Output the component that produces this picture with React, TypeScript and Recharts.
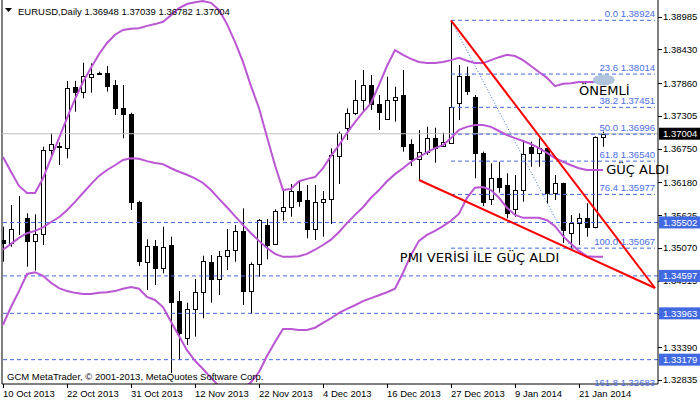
import { ComposedChart, Bar, Line, XAxis, YAxis, ReferenceLine, ReferenceDot } from 'recharts'

// EURUSD daily bars, 10 Oct 2013 .. 24 Jan 2014
const opens = [
  1.35205, 1.35159, 1.35569, 1.35572, 1.35193, 1.35301, 1.36728, 1.36796, 1.36767, 1.3779,
  1.37716, 1.37969, 1.38037, 1.38037, 1.37829, 1.37434, 1.37338, 1.35853, 1.34827, 1.35103,
  1.34726, 1.3512, 1.34172, 1.33541, 1.34032, 1.34319, 1.34827, 1.34539, 1.34934, 1.35035,
  1.35357, 1.34346, 1.34793, 1.35459, 1.35132, 1.35696, 1.35758, 1.36034, 1.35882, 1.35386,
  1.35843, 1.35894, 1.36632, 1.37106, 1.3735, 1.37575, 1.37829, 1.37507, 1.37248, 1.37575,
  1.3766, 1.3683, 1.36571, 1.367, 1.36927, 1.36801, 1.36842, 1.37519, 1.37981, 1.37621,
  1.36683, 1.35894, 1.36249, 1.36136, 1.35725, 1.36051, 1.36784, 1.36683, 1.36757, 1.36006,
  1.36165, 1.35328, 1.35488, 1.35572, 1.3543, 1.36948,
]
const highs = [
  1.3543, 1.35797, 1.3595, 1.35657, 1.3564, 1.36784, 1.37011, 1.36859, 1.37897, 1.37897,
  1.38206, 1.38196, 1.38054, 1.38151, 1.37914, 1.37829, 1.3736, 1.3587, 1.35217, 1.35205,
  1.3543, 1.35261, 1.34341, 1.34143, 1.34545, 1.34939, 1.34951, 1.35019, 1.35391, 1.35459,
  1.35741, 1.34827, 1.3556, 1.3556, 1.35725, 1.36063, 1.36153, 1.36209, 1.36136, 1.36136,
  1.36034, 1.36757, 1.37038, 1.37434, 1.37914, 1.38083, 1.37998, 1.3766, 1.37969, 1.378,
  1.38083, 1.3691, 1.37067, 1.37123, 1.37106, 1.37021, 1.38924, 1.38168, 1.38139, 1.3766,
  1.367, 1.36503, 1.3653, 1.36334, 1.36305, 1.36898, 1.36869, 1.36927, 1.36784, 1.36305,
  1.36175, 1.35628, 1.35657, 1.35826, 1.3696, 1.37039,
]
const lows = [
  1.34837, 1.35091, 1.35289, 1.34753, 1.34685, 1.3512, 1.36588, 1.36475, 1.36588, 1.37377,
  1.37604, 1.37699, 1.37998, 1.37716, 1.37321, 1.36927, 1.35713, 1.34765, 1.34358, 1.34443,
  1.34641, 1.32953, 1.33173, 1.33427, 1.33568, 1.33879, 1.34143, 1.34274, 1.34697, 1.34837,
  1.34104, 1.33952, 1.34583, 1.34878, 1.3512, 1.35532, 1.35599, 1.35769, 1.35234, 1.35205,
  1.35261, 1.35476, 1.36153, 1.36898, 1.37321, 1.37377, 1.37406, 1.37067, 1.37236, 1.37208,
  1.367, 1.36458, 1.36221, 1.36644, 1.36513, 1.36801, 1.36842, 1.37236, 1.3766, 1.36249,
  1.3578, 1.35797, 1.36006, 1.35572, 1.35599, 1.35853, 1.36446, 1.36446, 1.35826, 1.35882,
  1.35154, 1.35067, 1.3512, 1.35261, 1.35403, 1.36782,
]
const closes = [
  1.35159, 1.35386, 1.35577, 1.35193, 1.35306, 1.36728, 1.36825, 1.36779, 1.37773, 1.37716,
  1.37981, 1.38015, 1.38015, 1.37817, 1.37434, 1.37333, 1.35853, 1.34854, 1.35108, 1.34726,
  1.35091, 1.3416, 1.33635, 1.34032, 1.34319, 1.34849, 1.34539, 1.34934, 1.35035, 1.35357,
  1.34346, 1.34793, 1.35543, 1.3512, 1.35696, 1.35758, 1.36034, 1.3587, 1.35386, 1.35843,
  1.35894, 1.36644, 1.37011, 1.3735, 1.37575, 1.37829, 1.37502, 1.37377, 1.37575, 1.37631,
  1.36796, 1.36571, 1.3669, 1.36927, 1.36757, 1.36869, 1.37451, 1.37981, 1.37732, 1.36683,
  1.35853, 1.36249, 1.36107, 1.35657, 1.36051, 1.36661, 1.36683, 1.36767, 1.36006, 1.36165,
  1.35374, 1.35498, 1.35572, 1.3543, 1.36945, 1.37004,
]

// Bollinger bands
const bbUpper = [
  1.3661, 1.3636, 1.3612, 1.36, 1.36, 1.3625, 1.3659, 1.3693, 1.3727, 1.3759,
  1.3788, 1.3812, 1.3835, 1.3854, 1.3868, 1.3876, 1.3878, 1.3879, 1.3883, 1.3886,
  1.389, 1.3901, 1.3913, 1.392, 1.3923, 1.3925, 1.3922, 1.391, 1.3886, 1.3856,
  1.3822, 1.3781, 1.3744, 1.3695, 1.3647, 1.3605, 1.3607, 1.362, 1.3624, 1.3627,
  1.3642, 1.3663, 1.3681, 1.3702, 1.372, 1.3737, 1.3752, 1.3783, 1.3815, 1.3842,
  1.3834, 1.3827, 1.3822, 1.382, 1.382, 1.3822, 1.3825, 1.3829, 1.3824, 1.382,
  1.382, 1.3825, 1.383, 1.3834, 1.3832, 1.3825, 1.3815, 1.3805, 1.3795, 1.3781,
  1.3785, 1.3786, 1.3788, 1.3788, 1.3788, 1.3786,
]
const bbMiddle = [
  1.3504, 1.3514, 1.3524, 1.3532, 1.3536, 1.3542, 1.3551, 1.3559, 1.3571, 1.3585,
  1.36, 1.3615, 1.3629, 1.3639, 1.3647, 1.3656, 1.3659, 1.3658, 1.3654, 1.3651,
  1.3649, 1.3642, 1.3636, 1.3631, 1.3625, 1.3617, 1.3605, 1.359, 1.3576, 1.3561,
  1.3546, 1.3532, 1.3519, 1.3507, 1.3497, 1.3492, 1.3492, 1.3493, 1.3497, 1.3504,
  1.3512, 1.3521, 1.3534, 1.3549, 1.3563, 1.3576, 1.3592, 1.3605, 1.362, 1.3632,
  1.3642, 1.3653, 1.3661, 1.3669, 1.3676, 1.3681, 1.3693, 1.3707, 1.3712, 1.3715,
  1.3715, 1.3712, 1.3705, 1.3698, 1.3693, 1.3688, 1.3683, 1.3676, 1.3668, 1.3659,
  1.3653, 1.3647, 1.3642, 1.3639, 1.3639, 1.3639,
]
const bbLower = [
  1.3377, 1.3407, 1.3434, 1.3463, 1.3466, 1.346, 1.3448, 1.3439, 1.3434, 1.3431,
  1.3429, 1.3429, 1.3431, 1.3432, 1.3434, 1.3438, 1.3441, 1.3438, 1.3424, 1.3419,
  1.3407, 1.3382, 1.3358, 1.3334, 1.3316, 1.3302, 1.3287, 1.3273, 1.3263, 1.326,
  1.3267, 1.328, 1.3297, 1.3324, 1.3348, 1.337, 1.337, 1.3368, 1.3368, 1.3372,
  1.338, 1.3388, 1.3397, 1.3404, 1.341, 1.3417, 1.3422, 1.3427, 1.3432, 1.3438,
  1.3465, 1.3495, 1.3519, 1.3529, 1.3536, 1.3544, 1.3553, 1.3565, 1.3592, 1.3609,
  1.361, 1.3605, 1.3592, 1.3575, 1.3563, 1.3558, 1.3558, 1.3558, 1.3554, 1.3544,
  1.3527, 1.3514, 1.3502, 1.3493, 1.3492, 1.3492,
]

const dateTicks = [0, 8, 16, 24, 32, 40, 48, 56, 64, 72]
const dateLabels = [
  '10 Oct 2013', '22 Oct 2013', '31 Oct 2013', '12 Nov 2013', '22 Nov 2013',
  '4 Dec 2013', '16 Dec 2013', '27 Dec 2013', '9 Jan 2014', '21 Jan 2014',
]

const priceTicks = [
  1.38985, 1.3843, 1.3786, 1.37305, 1.3675, 1.3618, 1.35625, 1.3507, 1.34515, 1.3396, 1.3339, 1.32835,
]
const markedLevels = [1.35502, 1.34597, 1.33963, 1.33179]
const bidPrice = 1.37004

const fibRatios = ['0.0', '23.6', '38.2', '50.0', '61.8', '76.4', '100.0', '161.8']
const fibPrices = [1.38924, 1.38014, 1.37451, 1.36996, 1.3654, 1.35977, 1.35067, 1.32683]
const fibHighBar = 56
const fibLowBar = 71

const trendDown = [{ x: 56, y: 1.38924 }, { x: 81.5, y: 1.34392 }]
const trendLow = [{ x: 52, y: 1.36221 }, { x: 81.5, y: 1.34392 }]

const notes = [
  { text: 'ÖNEMLİ', x: 72, y: 1.3766 },
  { text: 'GÜÇ ALDI', x: 75.4, y: 1.36322 },
  { text: 'PMI VERİSİ İLE GÜÇ ALDI', x: 49.6, y: 1.34832 },
]
const marker = { x: 75.1, y: 1.37914 }

const Y_MIN = 1.32767
const Y_MAX = 1.39268
const X_MIN = -0.125
const X_MAX = 81.875

const FONT = '"Liberation Sans", Arial, sans-serif'
const NOTE_FONT = '"DejaVu Sans", sans-serif'
const PURPLE = '#BA55D3'
const BLUE = '#4169E1'
const FIB_TEXT = '#4a6ee6'

const data = opens.map((o, i) => ({
  i,
  o,
  h: highs[i],
  l: lows[i],
  c: closes[i],
  up: bbUpper[i],
  mid: bbMiddle[i],
  dn: bbLower[i],
}))

function Candle(props: any) {
  const { x, y, width, height, payload } = props
  if (x == null || y == null) return null
  const cx = Math.round(x + width / 2) + 0.5
  const { o, h, l, c } = payload
  const span = h - l || 1e-9
  const py = (v: number) => y + ((h - v) / span) * height
  const top = Math.round(py(Math.max(o, c)))
  const bot = Math.round(py(Math.min(o, c)))
  const bull = c >= o
  return (
    <g>
      <line x1={cx} x2={cx} y1={y} y2={y + height} stroke="#000" strokeWidth={1} />
      <rect
        x={cx - 2}
        y={top + 0.5}
        width={4}
        height={Math.max(bot - top, 0)}
        fill={bull ? '#fff' : '#000'}
        stroke="#000"
        strokeWidth={1}
      />
    </g>
  )
}

function DateTick({ x, y, payload }: any) {
  const k = dateTicks.indexOf(payload.value)
  return (
    <g>
      <line x1={x + 0.5} x2={x + 0.5} y1={y} y2={y + 4} stroke="#000" />
      <text x={x} y={y + 13} fontSize={9.5} fontFamily={FONT} fill="#000">
        {dateLabels[k]}
      </text>
    </g>
  )
}

function PriceTick({ x, y, payload }: any) {
  const v = payload.value
  const label = v.toFixed(5)
  const boxed = v === bidPrice || markedLevels.includes(v)
  if (boxed) {
    return (
      <g>
        <rect x={x + 1} y={y - 6} width={42} height={12} fill={v === bidPrice ? '#000' : BLUE} />
        <text x={x + 5} y={y + 3.5} fontSize={9.5} fontFamily={FONT} fill="#fff">
          {label}
        </text>
      </g>
    )
  }
  return (
    <g>
      <line x1={x} x2={x + 4} y1={Math.round(y) + 0.5} y2={Math.round(y) + 0.5} stroke="#000" />
      <text x={x + 5} y={y + 3.5} fontSize={9.5} fontFamily={FONT} fill="#000">
        {label}
      </text>
    </g>
  )
}

export default function App() {
  return (
    <div style={{ position: 'absolute', left: 0, top: 0, width: 700, height: 402, background: '#fff' }}>
      <ComposedChart width={700} height={402} data={data} margin={{ top: 0, right: 0, bottom: 0, left: 2 }}>
        <XAxis
          type="number"
          dataKey="i"
          domain={[X_MIN, X_MAX]}
          allowDataOverflow
          ticks={dateTicks}
          interval={0}
          height={18}
          tickSize={0}
          tickMargin={0}
          tickLine={false}
          axisLine={{ stroke: '#000' }}
          tick={(p: any) => <DateTick {...p} />}
        />
        <YAxis
          orientation="right"
          type="number"
          domain={[Y_MIN, Y_MAX]}
          allowDataOverflow
          ticks={[...priceTicks, bidPrice, ...markedLevels]}
          interval={0}
          width={42}
          tickSize={0}
          tickMargin={0}
          tickLine={false}
          axisLine={{ stroke: '#000' }}
          tick={(p: any) => <PriceTick {...p} />}
        />

        <ReferenceLine x={X_MIN} stroke="#000" ifOverflow="visible" />
        <ReferenceLine y={bidPrice} stroke="#c0c0c0" ifOverflow="hidden" />
        {markedLevels.map((v) => (
          <ReferenceLine key={v} y={v} stroke={BLUE} strokeDasharray="4 3" ifOverflow="hidden" />
        ))}
        {fibPrices.map((v) => (
          <ReferenceLine
            key={'f' + v}
            segment={[{ x: fibHighBar, y: v }, { x: 81.5, y: v }]}
            stroke={BLUE}
            strokeDasharray="4 3"
            ifOverflow="hidden"
          />
        ))}
        <ReferenceLine
          segment={[{ x: fibHighBar, y: fibPrices[0] }, { x: fibLowBar, y: fibPrices[6] }]}
          stroke={BLUE}
          strokeDasharray="1 2"
          ifOverflow="hidden"
        />
        <ReferenceDot
          x={marker.x}
          y={marker.y}
          ifOverflow="hidden"
          shape={(p: any) => <ellipse cx={p.cx} cy={p.cy} rx={11} ry={5.5} fill="#b0c4de" />}
        />

        <Bar dataKey={(d: any) => [d.l, d.h]} barSize={5} isAnimationActive={false} shape={(p: any) => <Candle {...p} />} />
        <Line dataKey="up" stroke={PURPLE} strokeWidth={2} dot={false} activeDot={false} isAnimationActive={false} />
        <Line dataKey="mid" stroke={PURPLE} strokeWidth={2} dot={false} activeDot={false} isAnimationActive={false} />
        <Line dataKey="dn" stroke={PURPLE} strokeWidth={2} dot={false} activeDot={false} isAnimationActive={false} />

        <ReferenceLine segment={trendDown} stroke="#ff0000" strokeWidth={2} ifOverflow="hidden" />
        <ReferenceLine segment={trendLow} stroke="#ff0000" strokeWidth={2} ifOverflow="hidden" />

        {fibPrices.map((v, k) => (
          <ReferenceDot
            key={'fl' + v}
            x={81.5}
            y={v}
            ifOverflow="hidden"
            shape={(p: any) => (
              <text x={p.cx} y={p.cy - 3} textAnchor="end" fontSize={9.5} fontFamily={FONT} fill={FIB_TEXT}>
                {fibRatios[k] + ' ' + v.toFixed(5)}
              </text>
            )}
          />
        ))}
        {notes.map((n) => (
          <ReferenceDot
            key={n.text}
            x={n.x}
            y={n.y}
            ifOverflow="hidden"
            shape={(p: any) => (
              <text x={p.cx} y={p.cy} fontSize={13} fontFamily={NOTE_FONT} fill="#000">
                {n.text}
              </text>
            )}
          />
        ))}
      </ComposedChart>
      <svg width={700} height={402} style={{ position: 'absolute', left: 0, top: 0, pointerEvents: 'none' }}>
        <polygon points="5,8 12,8 8.5,12" fill="#000" />
        <text x={18} y={14.5} fontSize={9.5} fontFamily={FONT} fill="#000">
          EURUSD,Daily  1.36948 1.37039 1.36782 1.37004
        </text>
        <text x={7} y={380} fontSize={9.5} fontFamily={FONT} fill="#000">
          GCM MetaTrader, © 2001-2013, MetaQuotes Software Corp.
        </text>
      </svg>
    </div>
  )
}
